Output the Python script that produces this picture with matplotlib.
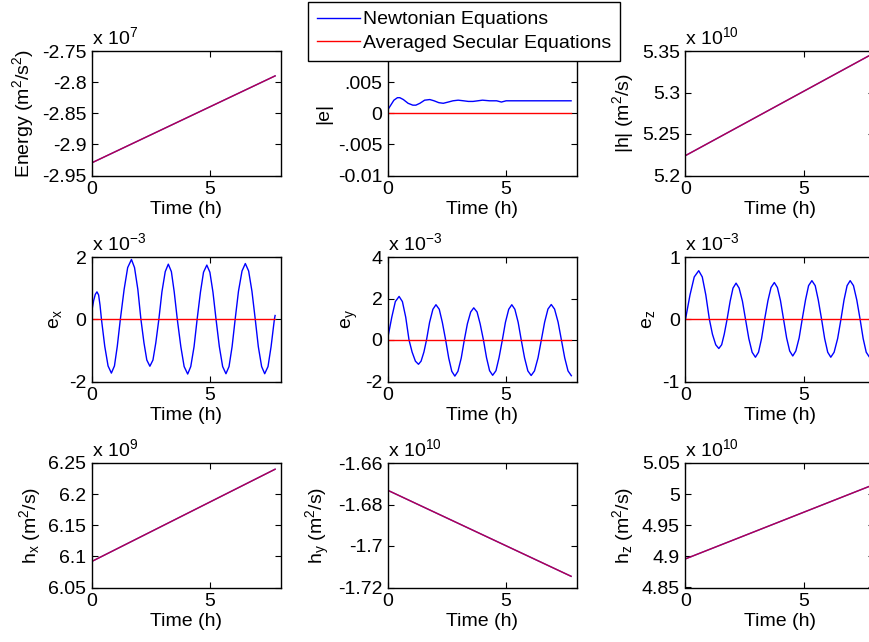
"""
3x3 grid: Newtonian vs averaged secular equations over ~8 hours
"""

import matplotlib.pyplot as plt
from matplotlib.lines import Line2D

plt.rcParams['font.family'] = ['Liberation Sans', 'DejaVu Sans']
plt.rcParams['font.size'] = 14
plt.rcParams['axes.unicode_minus'] = False

BLUE = '#0000ff'
RED = '#ff0000'

# straight-line panels: values at start and end (shown in units of the axis multiplier)
T_LIN = [0.0, 7.75]
ENERGY = [-2.9295, -2.790]        # x 10^7
H_MAG = [5.224, 5.344]            # x 10^10
H_X = [6.092, 6.240]              # x 10^9
H_Y = [-1.6732, -1.7146]          # x 10^10
H_Z = [4.896, 5.012]              # x 10^10

# |e|, Newtonian (secular stays at 0)
T_EMAG = [0.00, 0.10, 0.25, 0.40, 0.50, 0.65, 0.85, 1.05, 1.18, 1.35, 1.55, 1.77,
          1.95, 2.15, 2.34, 2.55, 2.75, 2.97, 3.20, 3.40, 3.60, 3.80, 4.00, 4.30,
          4.60, 4.80, 5.00, 5.30, 5.60, 6.00, 6.50, 7.00, 7.75]
E_MAG = [0.0006, 0.0012, 0.0021, 0.0025, 0.0025, 0.0022, 0.0016, 0.0013, 0.0013,
         0.0016, 0.0021, 0.0022, 0.0020, 0.0017, 0.0016, 0.0018, 0.0020, 0.0021,
         0.0020, 0.0019, 0.0019, 0.0020, 0.0021, 0.0020, 0.0020, 0.0018, 0.0020,
         0.0020, 0.0020, 0.0020, 0.0020, 0.0020, 0.0020]

# e_x (x 10^-3)
T_EX = [0.00, 0.07, 0.14, 0.21, 0.28, 0.34, 0.40, 0.54, 0.68, 0.82, 0.95, 1.07,
        1.20, 1.36, 1.51, 1.67, 1.80, 1.94, 2.07, 2.20, 2.32, 2.45, 2.58, 2.70,
        2.83, 2.96, 3.10, 3.23, 3.36, 3.48, 3.61, 3.76, 3.90, 4.05, 4.18, 4.32,
        4.45, 4.59, 4.72, 4.86, 4.99, 5.12, 5.25, 5.39, 5.53, 5.67, 5.80, 5.93,
        6.06, 6.20, 6.35, 6.49, 6.63, 6.77, 6.91, 7.04, 7.18, 7.31, 7.45, 7.58,
        7.72, 7.75]
E_X = [0.30, 0.60, 0.80, 0.88, 0.78, 0.45, 0.00, -0.87, -1.50, -1.73, -1.50, -0.87,
       0.00, 0.96, 1.66, 1.92, 1.66, 0.96, 0.00, -0.76, -1.31, -1.51, -1.31, -0.76,
       0.00, 0.88, 1.53, 1.77, 1.53, 0.88, 0.00, -0.88, -1.52, -1.76, -1.52, -0.88,
       0.00, 0.87, 1.51, 1.74, 1.51, 0.87, 0.00, -0.88, -1.52, -1.75, -1.52, -0.88,
       0.00, 0.90, 1.55, 1.79, 1.55, 0.90, 0.00, -0.88, -1.52, -1.75, -1.52, -0.88,
       0.00, 0.12]

# e_y (x 10^-3)
T_EY = [0.00, 0.16, 0.31, 0.47, 0.61, 0.75, 0.89, 1.02, 1.16, 1.29, 1.40, 1.52,
        1.63, 1.76, 1.90, 2.03, 2.17, 2.30, 2.44, 2.57, 2.70, 2.83, 2.96, 3.10,
        3.23, 3.36, 3.50, 3.63, 3.77, 3.90, 4.04, 4.17, 4.30, 4.43, 4.57, 4.70,
        4.84, 4.97, 5.11, 5.24, 5.37, 5.51, 5.64, 5.78, 5.92, 6.06, 6.20, 6.35,
        6.49, 6.63, 6.77, 6.91, 7.05, 7.20, 7.34, 7.48, 7.62, 7.76]
E_Y = [0.15, 1.10, 1.85, 2.10, 1.85, 1.10, 0.00, -0.58, -1.02, -1.17, -1.02, -0.58,
       0.00, 0.85, 1.48, 1.70, 1.48, 0.85, 0.00, -0.87, -1.51, -1.74, -1.51, -0.87,
       0.00, 0.78, 1.35, 1.55, 1.35, 0.78, 0.00, -0.85, -1.48, -1.70, -1.48, -0.85,
       0.00, 0.85, 1.48, 1.70, 1.48, 0.85, 0.00, -0.86, -1.49, -1.71, -1.49, -0.86,
       0.00, 0.86, 1.49, 1.71, 1.49, 0.86, 0.00, -0.86, -1.49, -1.72]

# e_z (x 10^-3)
T_EZ = [0.00, 0.19, 0.37, 0.56, 0.71, 0.86, 1.01, 1.14, 1.28, 1.41, 1.53, 1.64,
        1.76, 1.89, 2.01, 2.14, 2.27, 2.41, 2.54, 2.68, 2.82, 2.96, 3.09, 3.22,
        3.35, 3.49, 3.62, 3.76, 3.89, 4.02, 4.15, 4.28, 4.41, 4.54, 4.67, 4.81,
        4.94, 5.08, 5.21, 5.35, 5.49, 5.62, 5.76, 5.89, 6.02, 6.15, 6.29, 6.44,
        6.58, 6.71, 6.84, 6.97, 7.11, 7.25, 7.39, 7.52, 7.65, 7.77]
E_Z = [0.00, 0.39, 0.68, 0.78, 0.68, 0.39, 0.00, -0.24, -0.41, -0.47, -0.41, -0.24,
       0.00, 0.29, 0.50, 0.58, 0.50, 0.29, 0.00, -0.31, -0.53, -0.61, -0.53, -0.31,
       0.00, 0.30, 0.51, 0.59, 0.51, 0.30, 0.00, -0.30, -0.51, -0.59, -0.51, -0.30,
       0.00, 0.31, 0.54, 0.62, 0.54, 0.31, 0.00, -0.31, -0.53, -0.61, -0.53, -0.31,
       0.00, 0.31, 0.54, 0.62, 0.54, 0.31, 0.00, -0.31, -0.53, -0.60]

ZERO = [0.0, 0.0]

XLIM = (0, 8)
XTICKS = [0, 5]
XTICKLABELS = ['0', '5']

# panel layout in pixels of the 870x642 figure (left, top); right column runs off the edge
COL_LEFT = [92, 388, 685.5]
ROW_TOP = [51, 257, 463]
AX_W, AX_H = 189, 124.5

SUP2 = r'$\mathregular{^2}$'
panels = [
    # row, col, t, newton, secular, ylim, yticks, yticklabels, ylabel, exponent
    (0, 0, T_LIN, ENERGY, ENERGY, (-2.95, -2.75), [-2.95, -2.9, -2.85, -2.8, -2.75],
     ['-2.95', '-2.9', '-2.85', '-2.8', '-2.75'], 'Energy (m' + SUP2 + '/s' + SUP2 + ')', '7'),
    # top label (0.01) sits under the legend in the original, so leave it blank
    (0, 1, T_EMAG, E_MAG, None, (-0.01, 0.01), [-0.01, -0.005, 0, 0.005, 0.01],
     ['-0.01', '-.005', '0', '.005', ''], '|e|', None),
    (0, 2, T_LIN, H_MAG, H_MAG, (5.2, 5.35), [5.2, 5.25, 5.3, 5.35],
     ['5.2', '5.25', '5.3', '5.35'], '|h| (m' + SUP2 + '/s)', '10'),
    (1, 0, T_EX, E_X, None, (-2, 2), [-2, 0, 2], ['-2', '0', '2'],
     r'e$\mathregular{_x}$', '-3'),
    (1, 1, T_EY, E_Y, None, (-2, 4), [-2, 0, 2, 4], ['-2', '0', '2', '4'],
     r'e$\mathregular{_y}$', '-3'),
    (1, 2, T_EZ, E_Z, None, (-1, 1), [-1, 0, 1], ['-1', '0', '1'],
     r'e$\mathregular{_z}$', '-3'),
    (2, 0, T_LIN, H_X, H_X, (6.05, 6.25), [6.05, 6.1, 6.15, 6.2, 6.25],
     ['6.05', '6.1', '6.15', '6.2', '6.25'], r'h$\mathregular{_x}$ (m' + SUP2 + '/s)', '9'),
    (2, 1, T_LIN, H_Y, H_Y, (-1.72, -1.66), [-1.72, -1.7, -1.68, -1.66],
     ['-1.72', '-1.7', '-1.68', '-1.66'], r'h$\mathregular{_y}$ (m' + SUP2 + '/s)', '10'),
    (2, 2, T_LIN, H_Z, H_Z, (4.85, 5.05), [4.85, 4.9, 4.95, 5, 5.05],
     ['4.85', '4.9', '4.95', '5', '5.05'], r'h$\mathregular{_z}$ (m' + SUP2 + '/s)', '10'),
]

fig = plt.figure(figsize=(8.7, 6.42), dpi=100)
FW, FH = 870, 642

for row, col, t, newton, secular, ylim, yticks, ylabels, ylabel, expo in panels:
    left = COL_LEFT[col]
    top = ROW_TOP[row]
    ax = fig.add_axes([left / FW, 1 - (top + AX_H) / FH, AX_W / FW, AX_H / FH])

    ax.plot(t, newton, color=BLUE, lw=1.0)
    if secular is None:
        ax.plot([t[0], t[-1]], ZERO, color=RED, lw=1.0)
    else:
        ax.plot(t, secular, color=RED, lw=1.0, alpha=0.7)

    ax.set_xticks(XTICKS)
    ax.set_xticklabels(XTICKLABELS)
    ax.set_yticks(yticks)
    ax.set_yticklabels(ylabels)
    ax.set_xlim(*XLIM)
    ax.set_ylim(*ylim)
    ax.set_xlabel('Time (h)', labelpad=2)
    ax.set_ylabel(ylabel, labelpad=4)
    ax.tick_params(direction='in', length=4, width=0.8, top=True, right=True, pad=4)
    for sp in ax.spines.values():
        sp.set_linewidth(1.0)
    if expo is not None:
        ax.text(0, 1.02, r'x 10$\mathregular{^{' + expo + '}}$',
                transform=ax.transAxes, ha='left', va='bottom')

handles = [Line2D([], [], color=BLUE, lw=1.0), Line2D([], [], color=RED, lw=1.0)]
fig.legend(handles, ['Newtonian Equations', 'Averaged Secular Equations'],
           loc='upper left', bbox_to_anchor=(308 / FW, 1 - 2 / FH),
           borderaxespad=0, fancybox=False, edgecolor='black', framealpha=1,
           handlelength=2.2, handletextpad=0.2, borderpad=0.45, labelspacing=0.3)

fig.savefig('out.png', dpi=100)
